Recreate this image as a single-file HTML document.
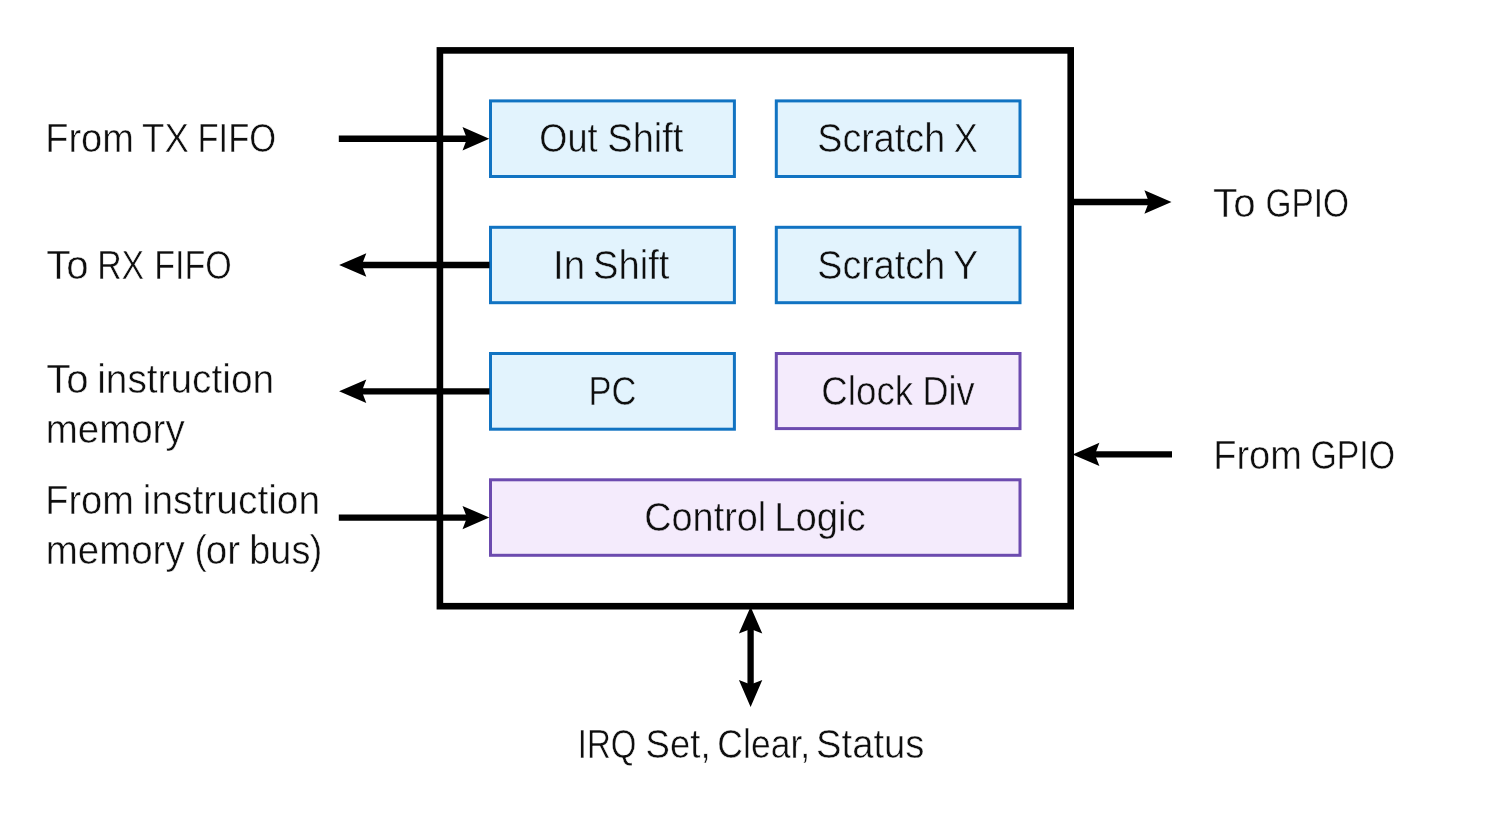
<!DOCTYPE html>
<html lang="en">
<head>
<meta charset="utf-8">
<title>PIO State Machine</title>
<style>
  html, body { margin: 0; padding: 0; background: #ffffff; }
  body { width: 1485px; height: 816px; overflow: hidden; }
  svg { display: block; }
  text { font-family: "Liberation Sans", sans-serif; font-size: 40.4px; fill: #0e0e0e; stroke-width: 0.5px; stroke-linejoin: round; }
</style>
</head>
<body>
<svg width="1485" height="816" viewBox="0 0 1485 816">
  <rect x="0" y="0" width="1485" height="816" fill="#ffffff"/>

  <!-- outer state machine box -->
  <rect x="439.9" y="50.4" width="630.8" height="555.8" fill="#ffffff" stroke="#000000" stroke-width="6.6"/>

  <!-- register boxes -->
  <g stroke-width="3">
    <rect x="490.5" y="100.9" width="243.9" height="75.6" fill="#e2f3fd" stroke="#1173c2"/>
    <rect x="776.3" y="100.9" width="243.7" height="75.6" fill="#e2f3fd" stroke="#1173c2"/>
    <rect x="490.5" y="227.3" width="243.9" height="75.4" fill="#e2f3fd" stroke="#1173c2"/>
    <rect x="776.3" y="227.3" width="243.7" height="75.4" fill="#e2f3fd" stroke="#1173c2"/>
    <rect x="490.5" y="353.5" width="243.9" height="75.7" fill="#e2f3fd" stroke="#1173c2"/>
    <rect x="776.3" y="353.5" width="243.7" height="75.1" fill="#f4ebfc" stroke="#6c4baf"/>
    <rect x="490.5" y="479.8" width="529.5" height="75.5" fill="#f4ebfc" stroke="#6c4baf"/>
  </g>

  <!-- arrow shafts -->
  <g stroke="#000000" stroke-width="6.3" fill="none">
    <line x1="338.8" y1="138.75" x2="472" y2="138.75"/>
    <line x1="358" y1="265.0" x2="489.5" y2="265.0"/>
    <line x1="358" y1="391.3" x2="489.5" y2="391.3"/>
    <line x1="338.8" y1="517.6" x2="472" y2="517.6"/>
    <line x1="1072" y1="202" x2="1154" y2="202"/>
    <line x1="1090" y1="454.4" x2="1172" y2="454.4"/>
    <line x1="750.6" y1="625" x2="750.6" y2="689"/>
  </g>
  <!-- arrow heads -->
  <g fill="#000000" stroke="none">
    <path d="M489.3 138.75 L462.5 127.0 L467.0 138.75 L462.5 150.4 Z"/>
    <path d="M489.3 517.6 L462.5 505.9 L467.0 517.6 L462.5 529.3 Z"/>
    <path d="M1171.5 202 L1144.4 190.3 L1148.9 202 L1144.4 213.7 Z"/>
    <path d="M339.1 265.0 L366.3 253.3 L361.8 265.0 L366.3 276.7 Z"/>
    <path d="M339.1 391.3 L366.3 379.6 L361.8 391.3 L366.3 403.0 Z"/>
    <path d="M1072.6 454.4 L1099.4 442.7 L1094.9 454.4 L1099.4 466.1 Z"/>
    <path d="M750.6 606.8 L738.9 633.6 L750.6 629.1 L762.3 633.6 Z"/>
    <path d="M750.6 707.1 L738.9 680.1 L750.6 684.6 L762.3 680.1 Z"/>
  </g>

  <!-- all labels: grouped so text is rasterised with greyscale anti-aliasing -->
  <g style="filter: opacity(0.999);">
  <!-- left labels -->
  <g>
    <text x="45.19" y="152.05" textLength="88.66" lengthAdjust="spacingAndGlyphs" stroke="#ffffff">From</text>
    <text x="142.12" y="152.05" textLength="46.83" lengthAdjust="spacingAndGlyphs" stroke="#ffffff">TX</text>
    <text x="197.48" y="152.05" textLength="78.59" lengthAdjust="spacingAndGlyphs" stroke="#ffffff">FIFO</text>
  </g>
  <g>
    <text x="46.26" y="278.65" textLength="42.34" lengthAdjust="spacingAndGlyphs" stroke="#ffffff">To</text>
    <text x="97.17" y="278.65" textLength="47.02" lengthAdjust="spacingAndGlyphs" stroke="#ffffff">RX</text>
    <text x="154.23" y="278.65" textLength="77.49" lengthAdjust="spacingAndGlyphs" stroke="#ffffff">FIFO</text>
  </g>
  <g>
    <text x="46.26" y="392.65" textLength="42.34" lengthAdjust="spacingAndGlyphs" stroke="#ffffff">To</text>
    <text x="97.17" y="392.65" textLength="176.97" lengthAdjust="spacingAndGlyphs" stroke="#ffffff">instruction</text>
    <text x="45.68" y="442.95" textLength="138.98" lengthAdjust="spacingAndGlyphs" stroke="#ffffff">memory</text>
  </g>
  <g>
    <text x="45.19" y="513.65" textLength="88.66" lengthAdjust="spacingAndGlyphs" stroke="#ffffff">From</text>
    <text x="142.82" y="513.65" textLength="177.3" lengthAdjust="spacingAndGlyphs" stroke="#ffffff">instruction</text>
    <text x="45.68" y="563.65" textLength="138.98" lengthAdjust="spacingAndGlyphs" stroke="#ffffff">memory</text>
    <text x="194.54" y="563.65" textLength="12.29" lengthAdjust="spacingAndGlyphs" stroke="#ffffff">(</text>
    <text x="205.78" y="563.65" textLength="34.23" lengthAdjust="spacingAndGlyphs" stroke="#ffffff">or</text>
    <text x="249.3" y="563.65" textLength="61.1" lengthAdjust="spacingAndGlyphs" stroke="#ffffff">bus</text>
    <text x="309.56" y="563.65" textLength="12.86" lengthAdjust="spacingAndGlyphs" stroke="#ffffff">)</text>
  </g>

  <!-- right labels -->
  <g>
    <text x="1213.08" y="216.75" textLength="42.46" lengthAdjust="spacingAndGlyphs" stroke="#ffffff">To</text>
    <text x="1265.45" y="216.75" textLength="83.5" lengthAdjust="spacingAndGlyphs" stroke="#ffffff">GPIO</text>
  </g>
  <g>
    <text x="1213.22" y="469.35" textLength="88.68" lengthAdjust="spacingAndGlyphs" stroke="#ffffff">From</text>
    <text x="1310.43" y="469.35" textLength="84.53" lengthAdjust="spacingAndGlyphs" stroke="#ffffff">GPIO</text>
  </g>

  <!-- bottom label -->
  <g>
    <text x="577.71" y="758.25" textLength="58.73" lengthAdjust="spacingAndGlyphs" stroke="#ffffff">IRQ</text>
    <text x="645.56" y="758.25" textLength="65.04" lengthAdjust="spacingAndGlyphs" stroke="#ffffff">Set,</text>
    <text x="717.35" y="758.25" textLength="92.8" lengthAdjust="spacingAndGlyphs" stroke="#ffffff">Clear,</text>
    <text x="815.99" y="758.25" textLength="108.45" lengthAdjust="spacingAndGlyphs" stroke="#ffffff">Status</text>
  </g>

  <!-- box labels -->
  <g>
    <text x="539.32" y="152.35" textLength="58.26" lengthAdjust="spacingAndGlyphs" stroke="#e2f3fd">Out</text>
    <text x="607.27" y="152.35" textLength="76.14" lengthAdjust="spacingAndGlyphs" stroke="#e2f3fd">Shift</text>
    <text x="817.26" y="152.35" textLength="127.98" lengthAdjust="spacingAndGlyphs" stroke="#e2f3fd">Scratch</text>
    <text x="953.72" y="152.35" textLength="24.04" lengthAdjust="spacingAndGlyphs" stroke="#e2f3fd">X</text>
    <text x="553.07" y="278.65" textLength="32.09" lengthAdjust="spacingAndGlyphs" stroke="#e2f3fd">In</text>
    <text x="593.01" y="278.65" textLength="76.45" lengthAdjust="spacingAndGlyphs" stroke="#e2f3fd">Shift</text>
    <text x="817.26" y="278.65" textLength="127.98" lengthAdjust="spacingAndGlyphs" stroke="#e2f3fd">Scratch</text>
    <text x="952.9" y="278.65" textLength="25.23" lengthAdjust="spacingAndGlyphs" stroke="#e2f3fd">Y</text>
    <text x="588.47" y="404.95" textLength="47.88" lengthAdjust="spacingAndGlyphs" stroke="#e2f3fd">PC</text>
    <text x="821.35" y="404.95" textLength="91.77" lengthAdjust="spacingAndGlyphs" stroke="#f4ebfc">Clock</text>
    <text x="922.38" y="404.95" textLength="52.2" lengthAdjust="spacingAndGlyphs" stroke="#f4ebfc">Div</text>
    <text x="644.26" y="531.35" textLength="122.0" lengthAdjust="spacingAndGlyphs" stroke="#f4ebfc">Control</text>
    <text x="774.17" y="531.35" textLength="91.58" lengthAdjust="spacingAndGlyphs" stroke="#f4ebfc">Logic</text>
  </g>
  </g>
</svg>
</body>
</html>
